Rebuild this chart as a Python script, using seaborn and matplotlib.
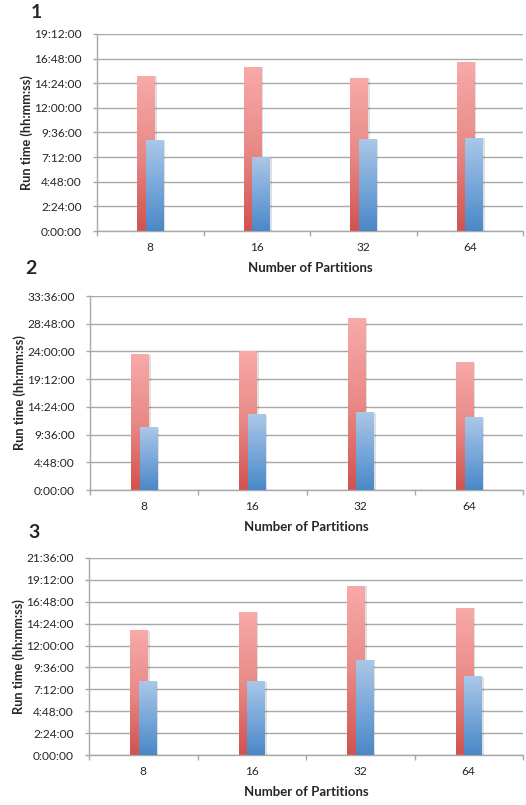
import numpy as np
import pandas as pd
import matplotlib
matplotlib.use("Agg")
import matplotlib.pyplot as plt
import matplotlib.patheffects as pe
from matplotlib.colors import LinearSegmentedColormap
from matplotlib.ticker import FuncFormatter, MultipleLocator, FixedLocator
import seaborn as sns

sns.set_style("white")
plt.rcParams['font.family'] = ['Lato', 'DejaVu Sans']

# x categories
partitions = ["8", "16", "32", "64"]
series_names = ["A", "B"]

# run times, in hours
run1_red = [15.13, 16.01, 14.94, 16.50]
run1_blue = [8.88, 7.22, 8.98, 9.11]
run2_red = [23.56, 24.08, 29.79, 22.17]
run2_blue = [10.91, 13.16, 13.51, 12.64]
run3_red = [13.69, 15.71, 18.56, 16.15]
run3_blue = [8.13, 8.13, 10.44, 8.68]

panel_labels = ["1", "2", "3"]
y_max = [19.2, 33.6, 21.6]
y_step = [2.4, 4.8, 2.4]

GRID = '#A8A8A8'
red_cmap = LinearSegmentedColormap.from_list('r', ['#D1524F', '#E88A87', '#F8AAA9'])
blue_cmap = LinearSegmentedColormap.from_list('b', ['#4A88C8', '#7AA8DA', '#ABC8E8'])


def hms(v, pos=None):
    mins = int(round(v * 60))
    return f"{mins // 60}:{mins % 60:02d}:00"


def shade_bars(ax, n):
    grad = np.linspace(0, 1, 256).reshape(-1, 1)
    cmaps = [red_cmap, blue_cmap]
    for i, bar in enumerate(ax.patches):
        k = i // n
        cx = bar.get_x() + bar.get_width() / 2
        bar.set_width(0.16)
        bar.set_x(cx - 0.08)
        bar.set_zorder(2 + k)
        bar.set_path_effects([pe.SimplePatchShadow(offset=(1.5, -0.5), shadow_rgbFace='k', alpha=0.12),
                              pe.Normal()])
        x0, y0 = bar.get_x(), bar.get_y()
        im = ax.imshow(grad, extent=[x0, x0 + bar.get_width(), y0, y0 + bar.get_height()],
                       origin='lower', cmap=cmaps[k], aspect='auto', zorder=2.5 + k)
        im.set_clip_path(bar)


fig = plt.figure(figsize=(5.26, 8.05), dpi=100)
W, H = 526, 805
# axes boxes in pixels: left, top, right, bottom
boxes = [(97, 34, 523, 231), (90, 296, 523, 490), (89, 558, 523, 755)]
num_pos = [(36, 12), (31, 269), (34, 533)]
ylab_x = [33, 26, 25]
runs = [(run1_red, run1_blue), (run2_red, run2_blue), (run3_red, run3_blue)]

for p in range(3):
    l, t, r, b = boxes[p]
    ax = fig.add_axes([l / W, 1 - b / H, (r - l) / W, (b - t) / H])
    red, blue = runs[p]
    df = pd.DataFrame({
        'partitions': partitions * 2,
        'hours': red + blue,
        'series': [series_names[0]] * 4 + [series_names[1]] * 4,
    })
    sns.barplot(data=df, x='partitions', y='hours', hue='series', order=partitions,
                hue_order=series_names, palette=['#E88A87', '#7AA8DA'], width=0.16,
                saturation=1, linewidth=0, legend=False, ax=ax)
    shade_bars(ax, len(partitions))

    ax.set_xlim(-0.5, len(partitions) - 0.5)
    ax.set_ylim(0, y_max[p])
    ax.yaxis.set_major_locator(MultipleLocator(y_step[p]))
    ax.yaxis.set_major_formatter(FuncFormatter(hms))
    ax.set_axisbelow(True)
    ax.yaxis.grid(True, color=GRID, lw=1)
    for s in ['top', 'right']:
        ax.spines[s].set_visible(False)
    for s in ['left', 'bottom']:
        ax.spines[s].set_color(GRID)
        ax.spines[s].set_linewidth(1)

    ax.xaxis.set_minor_locator(FixedLocator(np.arange(-0.5, len(partitions), 1.0)))
    ax.tick_params(axis='x', which='major', bottom=False, length=0, pad=8, labelsize=8.6)
    ax.tick_params(axis='x', which='minor', bottom=True, length=3.5, color=GRID, width=1)
    ax.tick_params(axis='y', left=True, length=3, color=GRID, width=1, pad=8, labelsize=8.6)

    ax.set_xlabel('Number of Partitions', fontsize=9.5, fontweight='bold')
    ax.xaxis.set_label_coords(0.5, -31 / (b - t))
    ax.set_ylabel('Run time (hh:mm:ss)', fontsize=9.2, fontweight='bold')
    ax.yaxis.set_label_coords((ylab_x[p] - l) / (r - l), 0.5)

    nx, ny = num_pos[p]
    fig.text(nx / W, 1 - ny / H, panel_labels[p], fontsize=14, fontweight='bold',
             ha='center', va='center')

fig.savefig('out.png', dpi=100)
